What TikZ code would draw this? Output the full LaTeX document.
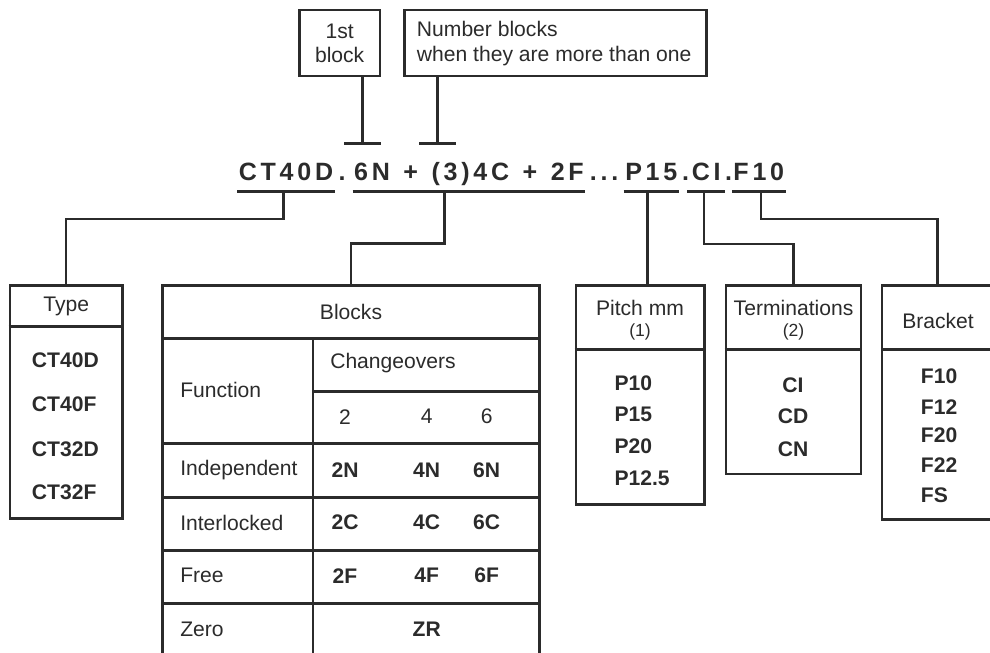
\documentclass[tikz,border=0pt]{standalone}
\usepackage{fontspec}
\setmainfont{Liberation Sans}
\newfontfamily\codefont[LetterSpace=15]{Liberation Sans}
\usetikzlibrary{positioning,fit,arrows.meta}
\definecolor{ink}{HTML}{2B2B2B}

\tikzset{
  panel/.style={draw=ink, line width=1.8pt, inner sep=0pt},
  rule/.style={draw=ink, line width=1.8pt},
  txt/.style={font=\fontsize{15}{17.2}\selectfont, text=ink, inner sep=0pt},
  val/.style={font=\fontsize{15}{17.2}\selectfont\bfseries, text=ink, inner sep=0pt},
  note/.style={font=\fontsize{12.5}{14}\selectfont, text=ink, inner sep=0pt},
  code/.style={font={\fontsize{17.8}{20}\codefont\bfseries\spaceskip=9.6pt}, text=ink, inner xsep=1pt, inner ysep=0pt, anchor=base},
  pin/.style={rule, -{Bar[width=26pt]}},
}

\begin{document}
\begin{tikzpicture}[x=0.025cm, y=-0.025cm]
    \useasboundingbox (0,0) rectangle (990,652);
    \clip (0,0) rectangle (990,652);

    % notes on top
    \node[panel, fit={(299.3,10) (380,76)}] (first) {};
    \node[txt, align=center] (firsttxt) at (first.center) {1st\\block};
    \node[panel, fit={(404.3,10) (706.7,76)}] (count) {};
    \node[txt, align=left, anchor=west] (counttxt) at (416.7,43.5) {Number blocks\\when they are more than one};
    \coordinate (firstpin) at (362.3,145);
    \coordinate (countpin) at (437.7,145);
    \draw[pin] (firstpin |- first.south) -- (firstpin);
    \draw[pin] (countpin |- count.south) -- (countpin);

    % the code
    \node[code] (ctype) at (286,180) {CT40D};
    \node[code] (cdot1) at (342,180) {.};
    \node[code] (cblk) at (469,180) {6N + (3)4C + 2F};
    \node[code] (cdots) at (604,180) {...};
    \node[code] (cpitch) at (651.3,180) {P15};
    \node[code] (cdot2) at (685.5,180) {.};
    \node[code] (cterm) at (706.3,180) {CI};
    \node[code] (cdot3) at (728.5,180) {.};
    \node[code] (cbrk) at (758.8,180) {F10};

    \coordinate (uline) at (0,191.7);
    \draw[rule] (ctype.west |- uline) -- (ctype.east |- uline);
    \draw[rule] (cblk.west |- uline) -- (cblk.east |- uline);
    \draw[rule] (cpitch.west |- uline) -- (cpitch.east |- uline);
    \draw[rule] ([xshift=-2pt]cterm.west |- uline) -- ([xshift=2pt]cterm.east |- uline);
    \draw[rule] (cbrk.west |- uline) -- (cbrk.east |- uline);

    \coordinate (typefoot) at (283.3,191.7);
    \coordinate (blkfoot) at (444.3,191.7);
    \coordinate (pitchfoot) at (647.3,191.7);
    \coordinate (termfoot) at (704,191.7);
    \coordinate (brkfoot) at (761,191.7);

    % Type
    \node[panel, fit={(10,285.7) (122.3,518.3)}] (type) {};
    \draw[rule] (type.west |- 0,326.7) -- (type.east |- 0,326.7);
    \node[txt] (typehead) at (66.2,306.2) {Type};
    \node[val, anchor=west] (t1) at (31.7,360.7) {CT40D};
    \node[val, anchor=west] (t2) at (31.7,404) {CT40F};
    \node[val, anchor=west] (t3) at (31.7,449) {CT32D};
    \node[val, anchor=west] (t4) at (31.7,492.7) {CT32F};

    % Blocks
    \node[panel, fit={(162.7,285.7) (539.3,700)}] (blocks) {};
    \draw[rule] (blocks.west |- 0,338.3) -- (blocks.east |- 0,338.3);
    \draw[rule] (313,338.3) -- (313,700);
    \draw[rule] (313,391.7) -- (blocks.east |- 0,391.7);
    \draw[rule] (blocks.west |- 0,443.6) -- (blocks.east |- 0,443.6);
    \draw[rule] (blocks.west |- 0,497.7) -- (blocks.east |- 0,497.7);
    \draw[rule] (blocks.west |- 0,550.7) -- (blocks.east |- 0,550.7);
    \draw[rule] (blocks.west |- 0,603.3) -- (blocks.east |- 0,603.3);
    \node[txt] (blkhead) at (351,312) {Blocks};
    \node[txt, anchor=west] (func) at (180,390) {Function};
    \node[txt, anchor=west] (chg) at (330,363.3) {Changeovers};
    \node[txt] (n2) at (345,416.7) {2};
    \node[txt] (n4) at (426.7,416.7) {4};
    \node[txt] (n6) at (486.7,416.7) {6};
    \node[txt, anchor=west] (indep) at (180,470) {Independent};
    \node[val] (v2n) at (345,470) {2N};
    \node[val] (v4n) at (426.7,470) {4N};
    \node[val] (v6n) at (486.7,470) {6N};
    \node[txt, anchor=west] (inter) at (180,522.7) {Interlocked};
    \node[val] (v2c) at (345,522.7) {2C};
    \node[val] (v4c) at (426.7,522.7) {4C};
    \node[val] (v6c) at (486.7,522.7) {6C};
    \node[txt, anchor=west] (free) at (180,575.7) {Free};
    \node[val] (v2f) at (345,575.7) {2F};
    \node[val] (v4f) at (426.7,575.7) {4F};
    \node[val] (v6f) at (486.7,575.7) {6F};
    \node[txt, anchor=west] (zero) at (180,629) {Zero};
    \node[val] (vzr) at (426.7,629) {ZR};

    % Pitch
    \node[panel, fit={(576,285.7) (704.3,504.3)}] (pitch) {};
    \draw[rule] (pitch.west |- 0,349.3) -- (pitch.east |- 0,349.3);
    \node[txt] (pitchhead) at (640,308.3) {Pitch mm};
    \node[note] (pitchnote) at (640,331.7) {(1)};
    \node[val, anchor=west] (p1) at (614.3,383.3) {P10};
    \node[val, anchor=west] (p2) at (614.3,414) {P15};
    \node[val, anchor=west] (p3) at (614.3,446) {P20};
    \node[val, anchor=west] (p4) at (614.3,478.3) {P12.5};

    % Terminations
    \node[panel, fit={(726,285.7) (861,474)}] (term) {};
    \draw[rule] (term.west |- 0,349.3) -- (term.east |- 0,349.3);
    \node[txt] (termhead) at (793.5,308.3) {Terminations};
    \node[note] (termnote) at (793.5,331.7) {(2)};
    \node[val] (e1) at (793,385) {CI};
    \node[val] (e2) at (793,416.7) {CD};
    \node[val] (e3) at (793,449) {CN};

    % Bracket
    \node[panel, fit={(882,285.7) (993,519.3)}] (bracket) {};
    \draw[rule] (bracket.west |- 0,349.3) -- (bracket.east |- 0,349.3);
    \node[txt] (brkhead) at (938,320.7) {Bracket};
    \node[val, anchor=west] (b1) at (920.7,376.7) {F10};
    \node[val, anchor=west] (b2) at (920.7,406.7) {F12};
    \node[val, anchor=west] (b3) at (920.7,435.7) {F20};
    \node[val, anchor=west] (b4) at (920.7,465) {F22};
    \node[val, anchor=west] (b5) at (920.7,495.7) {FS};

    % code to tables
    \draw[rule] (typefoot) -- ++(0,27.3) -| (type.north);
    \draw[rule] (blkfoot) -- ++(0,51.6) -| (blocks.north);
    \draw[rule] (pitchfoot) -- (pitchfoot |- pitch.north);
    \draw[rule] (termfoot) -- ++(0,52.3) -| (term.north);
    \draw[rule] (brkfoot) -- ++(0,27.3) -| (bracket.north);
\end{tikzpicture}
\end{document}
